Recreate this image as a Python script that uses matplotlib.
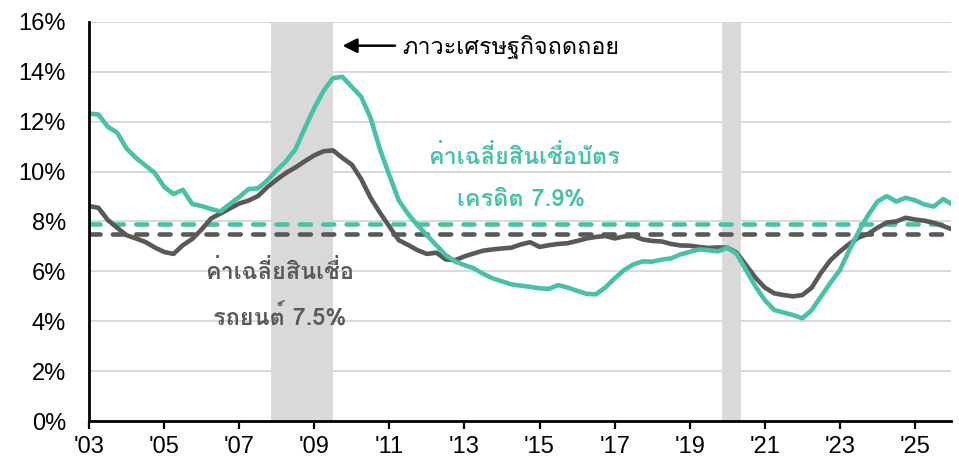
import matplotlib
matplotlib.use('Agg')
import matplotlib.pyplot as plt
import numpy as np

# ---- data (quarterly, starting 2003 Q1) ----
start_year = 2003.0
step = 0.25
card_rate = [
    12.33, 12.29, 11.80, 11.56,   # 2003
    10.93, 10.55, 10.25, 9.95,    # 2004
    9.39, 9.10, 9.27, 8.70,       # 2005
    8.62, 8.50, 8.40, 8.70,       # 2006
    8.98, 9.30, 9.33, 9.65,       # 2007
    10.05, 10.42, 10.90, 11.75,   # 2008
    12.55, 13.25, 13.75, 13.80,   # 2009
    13.40, 13.00, 12.15, 10.90,   # 2010
    9.85, 8.85, 8.30, 7.85,       # 2011
    7.45, 7.05, 6.65, 6.40,       # 2012
    6.25, 6.12, 5.90, 5.72,       # 2013
    5.60, 5.48, 5.43, 5.38,       # 2014
    5.32, 5.30, 5.45, 5.35,       # 2015
    5.22, 5.10, 5.08, 5.35,       # 2016
    5.72, 6.05, 6.28, 6.40,       # 2017
    6.39, 6.47, 6.52, 6.68,       # 2018
    6.78, 6.88, 6.85, 6.80,       # 2019
    6.95, 6.70, 6.05, 5.40,       # 2020
    4.85, 4.45, 4.35, 4.25,       # 2021
    4.12, 4.45, 5.00, 5.55,       # 2022
    6.05, 6.85, 7.60, 8.25,       # 2023
    8.80, 9.02, 8.80, 8.95,       # 2024
    8.85, 8.68, 8.60, 8.90,       # 2025
    8.68,                         # 2026 Q1
]
auto_rate = [
    8.62, 8.55, 8.06, 7.75,       # 2003
    7.45, 7.32, 7.18, 6.96,       # 2004
    6.78, 6.70, 7.05, 7.30,       # 2005
    7.68, 8.12, 8.32, 8.52,       # 2006
    8.72, 8.84, 9.02, 9.38,       # 2007
    9.68, 9.95, 10.17, 10.42,     # 2008
    10.65, 10.82, 10.85, 10.55,   # 2009
    10.28, 9.70, 8.95, 8.35,      # 2010
    7.80, 7.25, 7.06, 6.85,       # 2011
    6.70, 6.75, 6.48, 6.45,       # 2012
    6.60, 6.72, 6.83, 6.88,       # 2013
    6.92, 6.95, 7.08, 7.17,       # 2014
    6.98, 7.05, 7.10, 7.13,       # 2015
    7.22, 7.32, 7.38, 7.42,       # 2016
    7.32, 7.40, 7.42, 7.28,       # 2017
    7.22, 7.20, 7.10, 7.04,       # 2018
    7.03, 6.98, 6.94, 6.96,       # 2019
    6.95, 6.75, 6.25, 5.75,       # 2020
    5.35, 5.12, 5.05, 5.00,       # 2021
    5.05, 5.35, 5.95, 6.45,       # 2022
    6.80, 7.10, 7.36, 7.50,       # 2023
    7.75, 7.96, 8.00, 8.15,       # 2024
    8.08, 8.03, 7.95, 7.82,       # 2025
    7.68,                         # 2026 Q1
]
card_avg = 7.9
auto_avg = 7.5
recessions = [(2007.86, 2009.5), (2019.86, 2020.36)]
year_ticks = list(range(2003, 2026, 2))
year_labels = ["'%02d" % (y % 100) for y in year_ticks]
y_ticks = list(range(0, 17, 2))
y_labels = ['%d%%' % v for v in y_ticks]

recession_label = 'ภาวะเศรษฐกิจถดถอย'
card_label = ['ค่าเฉลี่ยสินเชื่อบัตร', 'เครดิต 7.9%']
auto_label = ['ค่าเฉลี่ยสินเชื่อ', 'รถยนต์ 7.5%']

TEAL = '#48C1A9'
GRAY = '#595959'
SHADE = '#D9D9D9'
THAI = ['Loma', 'Noto Sans Thai Looped', 'DejaVu Sans']
LATIN = 'Liberation Sans'

n = min(len(card_rate), len(auto_rate))
x = start_year + step * np.arange(n)

fig = plt.figure(figsize=(9.59, 4.63), dpi=100)
ax = fig.add_axes([0.0928, 0.0907, 0.8989, 0.8618])

for a, b in recessions:
    ax.axvspan(a, b, color=SHADE, lw=0, zorder=1)

for v in y_ticks[1:]:
    ax.axhline(v, color='#D9D9D9', lw=1.4, zorder=0.5)

lw = 3.3
ax.plot([x[0], x[-1]], [card_avg, card_avg], color=TEAL, lw=lw,
        dashes=(2.4, 2.7), dash_capstyle='round', zorder=3)
ax.plot([x[0], x[-1]], [auto_avg, auto_avg], color=GRAY, lw=lw,
        dashes=(2.4, 2.7), dash_capstyle='round', zorder=3)

ax.plot(x, auto_rate[:n], color=GRAY, lw=3.3, solid_joinstyle='round', zorder=4)
ax.plot(x, card_rate[:n], color=TEAL, lw=3.3, solid_joinstyle='round', zorder=5)

ax.set_xlim(2003, 2025.96)
ax.set_ylim(0, 16)
ax.set_xticks(year_ticks)
ax.set_xticklabels(year_labels, fontfamily=LATIN, fontsize=17)
ax.set_yticks(y_ticks)
ax.set_yticklabels(y_labels, fontfamily=LATIN, fontsize=17)
ax.tick_params(axis='x', length=6, width=1.6, color='black', pad=5)
ax.tick_params(axis='y', length=0, pad=16.5)
for s in ['top', 'right']:
    ax.spines[s].set_visible(False)
ax.spines['left'].set_linewidth(2.0)
ax.spines['bottom'].set_linewidth(2.0)
ax.spines['left'].set_zorder(6)
ax.spines['bottom'].set_zorder(6)

# annotations
ax.annotate('', xy=(2009.75, 15.05), xytext=(2011.15, 15.05),
            arrowprops=dict(arrowstyle='-|>', color='black', lw=1.8,
                            mutation_scale=22, shrinkA=0, shrinkB=0), zorder=7)
ax.text(2011.35, 15.0, recession_label, family=THAI, fontsize=16.8,
        color='black', ha='left', va='center', zorder=7)

ax.text(2014.58, 10.6, card_label[0], family=THAI, fontsize=16.9,
        color=TEAL, ha='center', va='center', fontweight='bold', zorder=7)
ax.text(2014.52, 8.9, card_label[1], family=THAI, fontsize=16.9,
        color=TEAL, ha='center', va='center', fontweight='bold', zorder=7)
ax.text(2008.09, 5.97, auto_label[0], family=THAI, fontsize=16.9,
        color=GRAY, ha='center', va='center', fontweight='bold', zorder=7)
ax.text(2008.09, 4.12, auto_label[1], family=THAI, fontsize=16.9,
        color=GRAY, ha='center', va='center', fontweight='bold', zorder=7)

fig.savefig('out.png', dpi=100)
